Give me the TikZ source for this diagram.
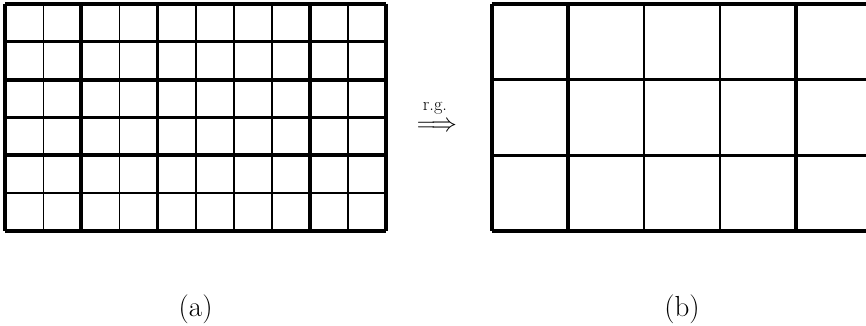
\documentclass[tikz,border=0pt]{standalone}
\begin{document}
\begin{tikzpicture}[x=1pt,y=-1pt,
  gridline/.style={line width=#1, line cap=butt, black},
  lbl/.style={font=\fontsize{29}{33}\selectfont, inner sep=0pt, anchor=base},
  rgtext/.style={font=\fontsize{18.4}{22}\selectfont, inner sep=0pt, anchor=base},
  rgarrow/.style={font=\fontsize{24.88}{28}\selectfont, inner sep=0pt, anchor=base}]
\useasboundingbox (0,0) rectangle (866,326);
% ---- left fine grid (a) ----
\def\lx{5.3}\def\dx{38.07}\def\ty{4}\def\dy{37.8}
\foreach \i/\w in {0/4,1/1.7,2/4,3/1.7,4/2.3,5/2.3,6/2.3,7/1.7,8/4,9/1.7,10/3.6}
  \draw[gridline=\w pt] (\lx+\i*\dx,\ty) -- (\lx+\i*\dx,\ty+6*\dy);
\foreach \j/\w in {0/3.6,1/2.7,2/4,3/2.3,4/4,5/2.3,6/4}
  \draw[gridline=\w pt] (\lx,\ty+\j*\dy) -- (\lx+10*\dx,\ty+\j*\dy);
% ---- right coarse grid (b) ----
\def\rx{491.7}\def\Dx{76.1}\def\Dy{75.6}
\foreach \k/\w in {0/3.6,1/4.5,2/2.8,3/1.7,4/4}
  \draw[gridline=\w pt] (\rx+\k*\Dx,\ty) -- (\rx+\k*\Dx,\ty+3*\Dy);
\foreach \j/\w in {0/3.6,1/3.7,2/3.1,3/3.7}
  \draw[gridline=\w pt] (\rx,\ty+\j*\Dy) -- (870,\ty+\j*\Dy);
% ---- arrow and labels ----
\node[rgarrow] (arr) at (437,131.3) {\scalebox{1.04}{$\Longrightarrow$}};
\node[rgtext] (rg) at (435,110.5) {r.g.};
\node[lbl] (la) at (195.6,316) {(a)};
\node[lbl] (lb) at (682,316) {(b)};
\end{tikzpicture}
\end{document}
